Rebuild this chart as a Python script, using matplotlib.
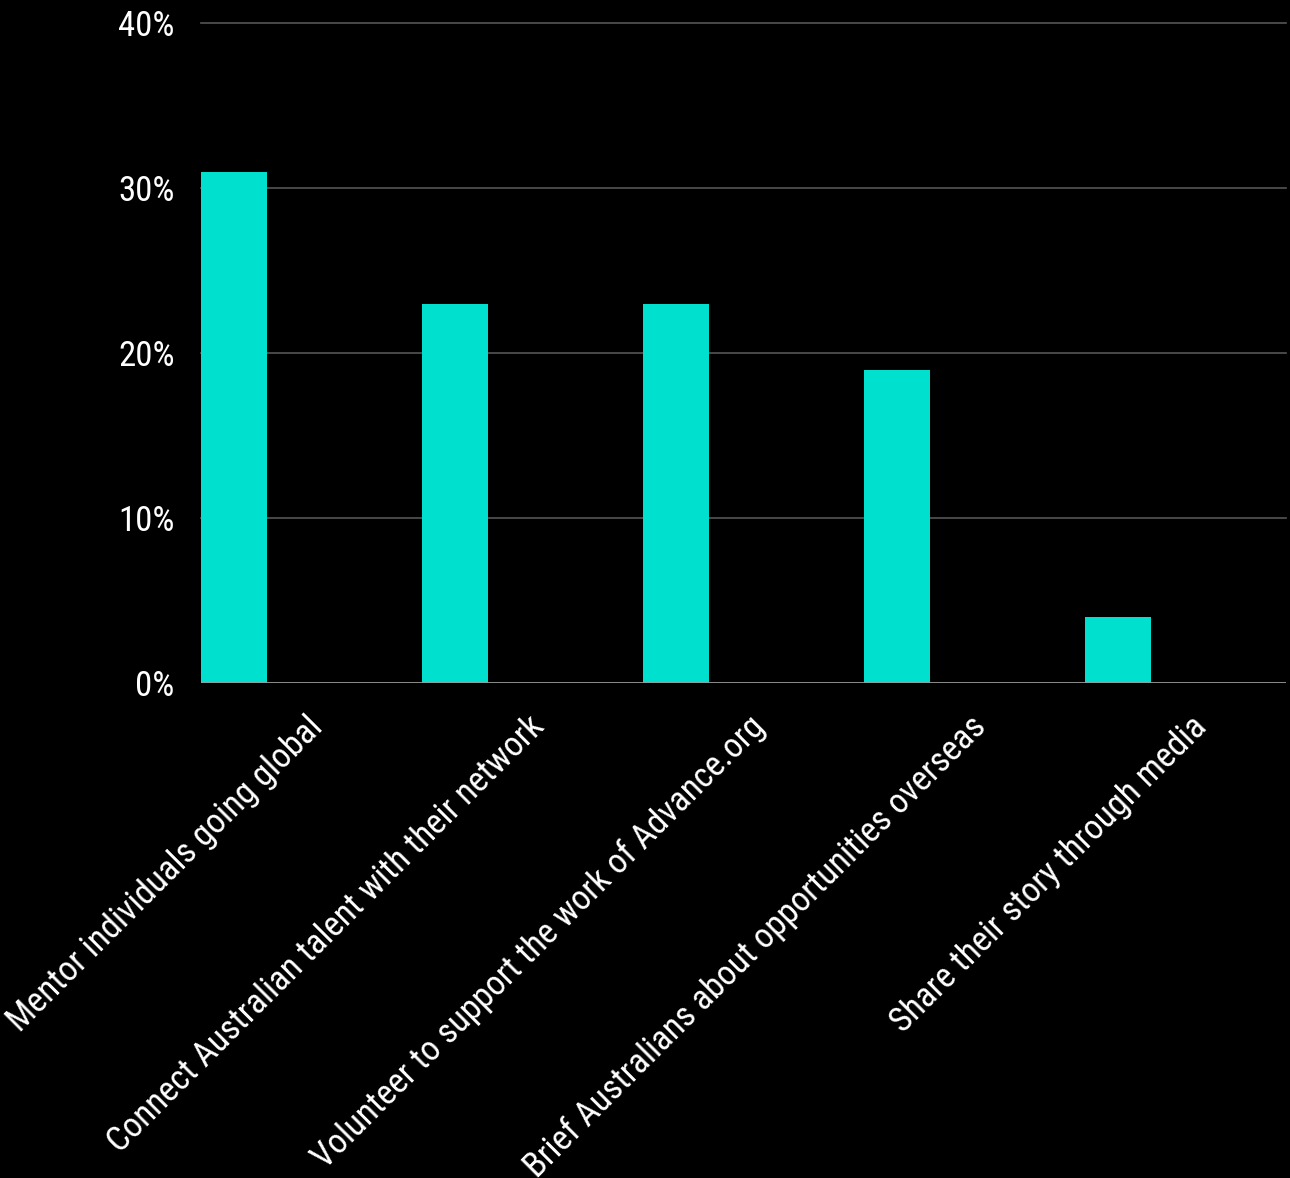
import numpy as np
import matplotlib
matplotlib.use('Agg')
import matplotlib.pyplot as plt
from matplotlib import font_manager

categories = [
    'Mentor individuals going global',
    'Connect Australian talent with their network',
    'Volunteer to support the work of Advance.org',
    'Brief Australians about opportunities overseas',
    'Share their story through media',
]
shares = [31, 23, 23, 19, 4]
y_ticks = [0, 10, 20, 30, 40]
y_tick_labels = ['0%', '10%', '20%', '30%', '40%']

BAR = '#00e0cf'
BG = '#000000'


def pick_font():
    for name in ['Roboto Condensed', 'Roboto']:
        try:
            font_manager.findfont(font_manager.FontProperties(family=name), fallback_to_default=False)
            return name
        except ValueError:
            continue
    return 'DejaVu Sans'


family = pick_font()
plt.rcParams['font.family'] = [family, 'DejaVu Sans']

fig = plt.figure(figsize=(12.9, 11.78), dpi=100, facecolor=BG)
ax = fig.add_axes([201 / 1290, 1 - 683 / 1178, 1085 / 1290, 660 / 1178])
ax.set_facecolor(BG)

x = np.arange(len(categories))
ax.bar(x - 0.5, shares, width=0.3, align='edge', color=BAR, zorder=3)

ax.set_xlim(-0.5, -0.5 + 1085 / 221)
ax.set_ylim(0, 40)
ax.set_yticks(y_ticks)
ax.set_yticklabels(y_tick_labels)
ax.set_xticks(x)
ax.set_xticklabels([])

# slanted category labels, right end anchored under each slot centre
for xi, name in zip(x, categories):
    ax.annotate(name, xy=(xi, 0), xytext=(4.5, -28), textcoords='offset points',
                rotation=45, rotation_mode='anchor', ha='right', va='center',
                color='white', fontsize=25, annotation_clip=False)

for v in y_ticks[1:]:
    ax.axhline(v, color='#555555', lw=1.2, zorder=1, clip_on=False)
ax.axhline(0, color='#9a9a9a', lw=2, zorder=4)

for s in ax.spines.values():
    s.set_visible(False)
ax.tick_params(axis='both', length=0, colors='white', labelsize=25)
ax.tick_params(axis='y', pad=19)

fig.savefig('out.png', dpi=100, facecolor=BG)
